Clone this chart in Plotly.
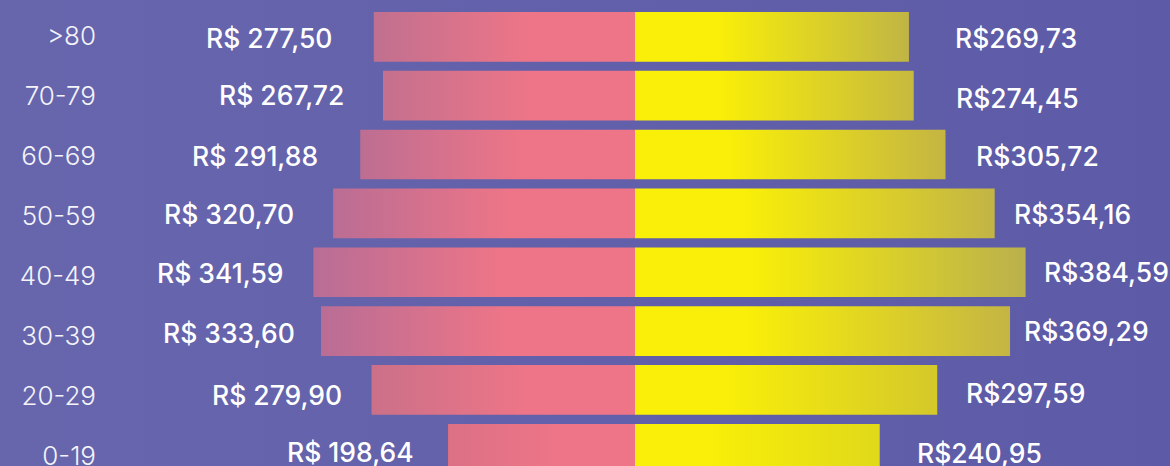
import base64
import plotly.graph_objects as go

# Average spend per age group (bottom row first)
age_groups = ["0-19", "20-29", "30-39", "40-49", "50-59", "60-69", "70-79", ">80"]
left_values = [198.64, 279.90, 333.60, 341.59, 320.70, 291.88, 267.72, 277.50]
right_values = [240.95, 297.59, 369.29, 384.59, 354.16, 305.72, 274.45, 269.73]

# Styling per row (bottom row first)
PINK_EDGE = ["#dc7085", "#cb7089", "#b96d95", "#b86d96", "#ba6d94", "#bd6e92", "#c4708e", "#c07090"]
YELLOW_EDGE = ["#e0d91a", "#d4c82b", "#c4b544", "#bab04d", "#c2b446", "#c4b543", "#c6b93f", "#c0b545"]
LEFT_GAP = [32, 28, 24, 28, 37, 40, 37, 40]
LEFT_DY = [-4, -1, -3, -3, -2, 0, -1, 2]
RIGHT_GAP = [35, 27, 12, 16, 17, 29, 40, 44]
RIGHT_DY = [-3, -3, -5, -4, -2, 0, 2, 2]

PINK = "#ed7587"
YELLOW = "#f9ef08"
W, H = 1170, 466
ML = 110
PLOT_W = W - ML
ZERO_PX = 635
SPLIT = (ZERO_PX - ML) / PLOT_W
LEFT_MAX = (ZERO_PX - ML) / 0.9413
RIGHT_MAX = (W - ZERO_PX) / 1.0156
HALF = 0.422


def brl(v, sep):
    return "R$" + sep + f"{v:.2f}".replace(".", ",")


fig = go.Figure()

for i, (lv, rv) in enumerate(zip(left_values, right_values)):
    ys = [i - HALF, i - HALF, i + HALF, i + HALF, i - HALF]
    # left bars: gradient runs along the screen, outer end first
    fig.add_trace(go.Scatter(
        x=[0, lv, lv, 0, 0], y=ys, xaxis="x", yaxis="y",
        mode="lines", line=dict(width=0), fill="toself",
        fillgradient=dict(type="horizontal",
                          colorscale=[[0, PINK_EDGE[i]], [0.58, PINK], [1, PINK]]),
        hoverinfo="skip", showlegend=False,
    ))
    fig.add_trace(go.Scatter(
        x=[0, rv, rv, 0, 0], y=ys, xaxis="x2", yaxis="y",
        mode="lines", line=dict(width=0), fill="toself",
        fillgradient=dict(type="horizontal",
                          colorscale=[[0, YELLOW], [0.3, YELLOW], [1, YELLOW_EDGE[i]]]),
        hoverinfo="skip", showlegend=False,
    ))

# value labels sit on the (slightly wider) label grid of yaxis2
label_font = dict(family="Inter", size=26.5, color="#ffffff", weight=500)
annotations = []
for i, (lv, rv) in enumerate(zip(left_values, right_values)):
    annotations.append(dict(
        x=lv, y=i, xref="x", yref="y2", text=brl(lv, " "),
        xanchor="right", yanchor="middle", xshift=-LEFT_GAP[i], yshift=-LEFT_DY[i],
        showarrow=False, font=label_font,
    ))
    annotations.append(dict(
        x=rv, y=i, xref="x2", yref="y2", text=brl(rv, ""),
        xanchor="left", yanchor="middle", xshift=RIGHT_GAP[i], yshift=-RIGHT_DY[i],
        showarrow=False, font=label_font,
    ))

svg = (
    f'<svg xmlns="http://www.w3.org/2000/svg" width="{W}" height="{H}" preserveAspectRatio="none">'
    '<defs><linearGradient id="g" x1="0" y1="0" x2="1" y2="0">'
    '<stop offset="0" stop-color="#6766ad"/><stop offset="1" stop-color="#5d5aa7"/>'
    '</linearGradient></defs><rect width="100%" height="100%" fill="url(#g)"/></svg>'
)
bg_src = "data:image/svg+xml;base64," + base64.b64encode(svg.encode()).decode()

fig.update_layout(
    width=W, height=H,
    margin=dict(l=ML, r=0, t=0, b=0, autoexpand=False),
    paper_bgcolor="#6260aa",
    plot_bgcolor="rgba(0,0,0,0)",
    showlegend=False,
    annotations=annotations,
    images=[dict(
        source=bg_src, xref="paper", yref="paper",
        x=-ML / PLOT_W, y=1, sizex=W / PLOT_W, sizey=1,
        xanchor="left", yanchor="top", sizing="stretch", layer="below",
    )],
    xaxis=dict(domain=[0, SPLIT], range=[LEFT_MAX, 0], visible=False, fixedrange=True,
               automargin=False),
    xaxis2=dict(domain=[SPLIT, 1], range=[0, RIGHT_MAX], visible=False, fixedrange=True,
                anchor="y", automargin=False),
    yaxis=dict(
        range=[-0.292, 7.625], showticklabels=False,
        showgrid=False, zeroline=False, showline=False, ticks="",
        fixedrange=True, automargin=False,
    ),
    yaxis2=dict(
        overlaying="y", anchor="free", position=0, side="left",
        range=[-0.1667, 7.6], tickmode="array",
        tickvals=list(range(len(age_groups))), ticktext=age_groups,
        showgrid=False, zeroline=False, showline=False, ticks="",
        ticklabelstandoff=14, ticklabeloverflow="allow", automargin=False,
        tickfont=dict(family="Inter", size=26, color="#f4f4fa", weight=300),
        fixedrange=True,
    ),
)

fig.write_html("out.html", config={"displayModeBar": False})
